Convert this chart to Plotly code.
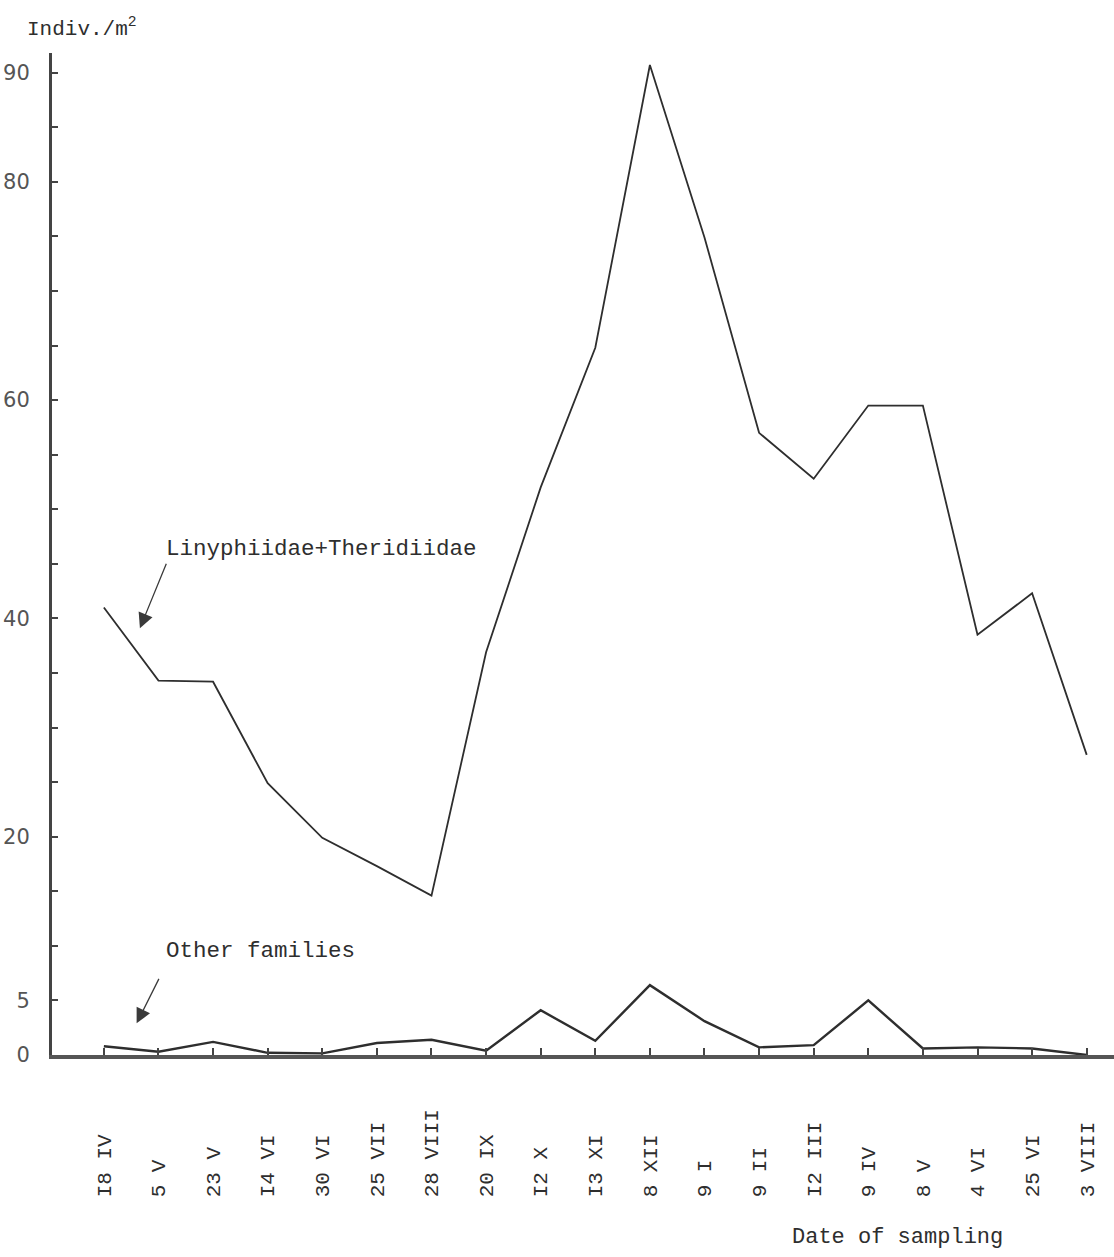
import plotly.graph_objects as go

# ---- data ----
dates = ["I8 IV", "5 V", "23 V", "I4 VI", "30 VI", "25 VII", "28 VIII", "20 IX",
         "I2 X", "I3 XI", "8 XII", "9 I", "9 II", "I2 III", "9 IV", "8 V",
         "4 VI", "25 VI", "3 VIII"]
linyphiidae_theridiidae = [41.0, 34.3, 34.2, 24.9, 19.9, 17.3, 14.6, 36.9, 52.0, 64.8,
                           90.7, 74.9, 57.0, 52.8, 59.5, 59.5, 38.5, 42.3, 27.5]
other_families = [0.8, 0.3, 1.2, 0.2, 0.15, 1.1, 1.4, 0.4, 4.1, 1.3,
                  6.4, 3.1, 0.7, 0.9, 5.0, 0.6, 0.7, 0.6, 0.0]
y_tick_values = list(range(0, 95, 5))
y_tick_labelled = [0, 5, 20, 40, 60, 80, 90]

INK = "#2e2e2e"
MONO = "Liberation Mono, Courier New, monospace"

x_idx = list(range(len(dates)))
maxlen = max(len(d) for d in dates)
tick_text = [d + "\u00a0" * (maxlen - len(d)) for d in dates]
y_tick_text = [str(v) if v in y_tick_labelled else "" for v in y_tick_values]

fig = go.Figure()
fig.add_trace(go.Scatter(x=x_idx, y=linyphiidae_theridiidae, mode="lines",
                         line=dict(color=INK, width=1.8), showlegend=False,
                         hoverinfo="skip"))
fig.add_trace(go.Scatter(x=x_idx, y=other_families, mode="lines",
                         line=dict(color=INK, width=2.4), showlegend=False,
                         hoverinfo="skip"))

fig.update_layout(
    width=1114, height=1257, autosize=False,
    margin=dict(l=52, r=0, t=53, b=202, pad=0),
    paper_bgcolor="white", plot_bgcolor="white",
    font=dict(family=MONO, color=INK),
    xaxis=dict(
        range=[-0.95, 18.5], showgrid=False, zeroline=False,
        showline=True, linecolor="#555555", linewidth=3.5,
        tickmode="array", tickvals=x_idx, ticktext=tick_text,
        tickangle=-90, ticks="inside", ticklen=7, tickwidth=1.5, tickcolor="#444",
        tickfont=dict(family=MONO, size=21, color=INK),
        ticklabelstandoff=42,
    ),
    yaxis=dict(
        range=[0, 91.8], showgrid=False, zeroline=False,
        showline=True, linecolor="#444444", linewidth=3,
        tickmode="array", tickvals=y_tick_values, ticktext=y_tick_text,
        ticks="inside", ticklen=6, tickwidth=2, tickcolor="#444",
        tickfont=dict(family="DejaVu Sans, sans-serif", size=21, color="#555"),
        ticklabelstandoff=15,
    ),
)

# axis title / labels
fig.add_annotation(text="Indiv./m<sup>2</sup>", xref="paper", yref="paper",
                   x=-0.025, y=1.025, xanchor="left", yanchor="middle",
                   showarrow=False, font=dict(family=MONO, size=21, color=INK))
fig.add_annotation(text="Date of sampling", xref="paper", yref="paper",
                   x=0.796, y=-0.182, xanchor="center", yanchor="middle",
                   showarrow=False, font=dict(family=MONO, size=22, color=INK))

# series labels
fig.add_annotation(text="Linyphiidae+Theridiidae", x=1.1, y=46.4,
                   xanchor="left", yanchor="middle", showarrow=False,
                   font=dict(family=MONO, size=22.5, color=INK))
fig.add_annotation(text="Other families", x=1.1, y=9.5,
                   xanchor="left", yanchor="middle", showarrow=False,
                   font=dict(family=MONO, size=22.5, color=INK))

# arrows
fig.add_annotation(text="", x=0.66, y=39.1, ax=27, ay=-66,
                   showarrow=True, arrowhead=2, arrowsize=2.3, arrowwidth=1.3,
                   arrowcolor="#3a3a3a")
fig.add_annotation(text="", x=0.6, y=2.9, ax=23, ay=-46,
                   showarrow=True, arrowhead=2, arrowsize=2.3, arrowwidth=1.3,
                   arrowcolor="#3a3a3a")

fig.write_html("out.html", config={"displayModeBar": False},
               post_script="document.body.style.margin='0';")
